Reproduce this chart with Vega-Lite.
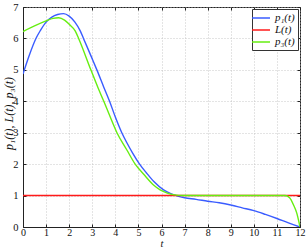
{
  "$schema": "https://vega.github.io/schema/vega-lite/v6.json",
  "width": 277,
  "height": 220,
  "autosize": {"type": "none"},
  "padding": {"left": 23, "top": 7, "right": 8, "bottom": 23},
  "background": "white",
  "config": {
    "view": {"stroke": "#222", "strokeWidth": 1},
    "font": "Liberation Serif",
    "axis": {
      "labelFont": "Liberation Serif",
      "labelFontSize": 10.5,
      "labelColor": "#111",
      "titleFont": "Liberation Serif",
      "titleFontStyle": "italic",
      "titleFontWeight": "normal",
      "titleFontSize": 12,
      "titleColor": "#111",
      "domainColor": "#222",
      "tickColor": "#222",
      "tickSize": -3,
      "gridColor": "#bbbbbb",
      "gridDash": [1, 2],
      "gridWidth": 0.8
    }
  },
  "data": {
    "values": [
      {"s": "p1", "t": 0, "v": 4.87},
      {"s": "p1", "t": 0.25, "v": 5.42},
      {"s": "p1", "t": 0.56, "v": 6.0},
      {"s": "p1", "t": 0.75, "v": 6.25},
      {"s": "p1", "t": 1.0, "v": 6.52},
      {"s": "p1", "t": 1.25, "v": 6.68},
      {"s": "p1", "t": 1.5, "v": 6.76},
      {"s": "p1", "t": 1.76, "v": 6.79},
      {"s": "p1", "t": 2.0, "v": 6.71},
      {"s": "p1", "t": 2.25, "v": 6.52},
      {"s": "p1", "t": 2.48, "v": 6.24},
      {"s": "p1", "t": 2.62, "v": 6.0},
      {"s": "p1", "t": 3.0, "v": 5.35},
      {"s": "p1", "t": 3.2, "v": 5.0},
      {"s": "p1", "t": 3.5, "v": 4.45},
      {"s": "p1", "t": 3.75, "v": 4.0},
      {"s": "p1", "t": 4.0, "v": 3.5},
      {"s": "p1", "t": 4.28, "v": 3.0},
      {"s": "p1", "t": 4.5, "v": 2.68},
      {"s": "p1", "t": 4.75, "v": 2.35},
      {"s": "p1", "t": 5.05, "v": 2.0},
      {"s": "p1", "t": 5.35, "v": 1.72},
      {"s": "p1", "t": 5.68, "v": 1.44},
      {"s": "p1", "t": 6.09, "v": 1.18},
      {"s": "p1", "t": 6.4, "v": 1.06},
      {"s": "p1", "t": 6.7, "v": 0.98},
      {"s": "p1", "t": 7.0, "v": 0.93},
      {"s": "p1", "t": 7.5, "v": 0.88},
      {"s": "p1", "t": 8.0, "v": 0.82},
      {"s": "p1", "t": 8.5, "v": 0.77},
      {"s": "p1", "t": 9.0, "v": 0.7},
      {"s": "p1", "t": 9.5, "v": 0.61},
      {"s": "p1", "t": 10.0, "v": 0.52},
      {"s": "p1", "t": 10.5, "v": 0.4},
      {"s": "p1", "t": 11.0, "v": 0.27},
      {"s": "p1", "t": 11.5, "v": 0.13},
      {"s": "p1", "t": 12.0, "v": 0.0},
      {"s": "L", "t": 0, "v": 1.0},
      {"s": "L", "t": 12, "v": 1.0},
      {"s": "p3", "t": 0, "v": 6.22},
      {"s": "p3", "t": 0.5, "v": 6.4},
      {"s": "p3", "t": 1.0, "v": 6.56},
      {"s": "p3", "t": 1.3, "v": 6.64},
      {"s": "p3", "t": 1.55, "v": 6.66},
      {"s": "p3", "t": 1.8, "v": 6.58},
      {"s": "p3", "t": 2.0, "v": 6.45},
      {"s": "p3", "t": 2.26, "v": 6.24},
      {"s": "p3", "t": 2.41, "v": 6.0},
      {"s": "p3", "t": 2.94, "v": 5.0},
      {"s": "p3", "t": 3.25, "v": 4.43},
      {"s": "p3", "t": 3.5, "v": 4.0},
      {"s": "p3", "t": 3.78, "v": 3.5},
      {"s": "p3", "t": 4.07, "v": 3.0},
      {"s": "p3", "t": 4.5, "v": 2.45},
      {"s": "p3", "t": 4.86, "v": 2.0},
      {"s": "p3", "t": 5.25, "v": 1.66},
      {"s": "p3", "t": 5.68, "v": 1.32},
      {"s": "p3", "t": 5.94, "v": 1.18},
      {"s": "p3", "t": 6.25, "v": 1.08},
      {"s": "p3", "t": 6.5, "v": 1.03},
      {"s": "p3", "t": 7.0, "v": 1.0},
      {"s": "p3", "t": 8.0, "v": 1.0},
      {"s": "p3", "t": 9.0, "v": 1.0},
      {"s": "p3", "t": 10.0, "v": 1.0},
      {"s": "p3", "t": 11.0, "v": 1.0},
      {"s": "p3", "t": 11.35, "v": 1.0},
      {"s": "p3", "t": 11.55, "v": 0.93},
      {"s": "p3", "t": 11.72, "v": 0.7},
      {"s": "p3", "t": 11.86, "v": 0.44},
      {"s": "p3", "t": 12.0, "v": 0.0}
    ]
  },
  "layer": [
    {
      "mark": {"type": "line", "strokeWidth": 1.4, "interpolate": "monotone", "clip": true},
      "encoding": {
        "x": {
          "field": "t", "type": "quantitative",
          "scale": {"domain": [0, 12], "nice": false, "zero": false},
          "axis": {"orient": "bottom", "values": [0,1,2,3,4,5,6,7,8,9,10,11,12], "title": "t", "labelPadding": 3, "labelFontSize": 10, "titleFontSize": 10.5, "titleY": 19.5, "titleBaseline": "alphabetic", "grid": true, "labelFlush": false}
        },
        "y": {
          "field": "v", "type": "quantitative",
          "scale": {"domain": [0, 7], "nice": false, "zero": false},
          "axis": {"orient": "left", "values": [0,1,2,3,4,5,6,7], "title": "p₁(t), L(t), p₃(t)", "labelPadding": 8, "titleX": -15, "titleY": 106, "titleAlign": "center", "titleBaseline": "middle", "titleAngle": -90, "grid": true, "labelFlush": false}
        },
        "color": {
          "field": "s", "type": "nominal",
          "scale": {"domain": ["p1", "L", "p3"], "range": ["#3a5cff", "#ff1a1a", "#66ee11"]},
          "legend": {
            "orient": "top-right",
            "offset": 2,
            "title": null,
            "labelExpr": "datum.value == 'p1' ? 'p₁(t)' : datum.value == 'p3' ? 'p₃(t)' : 'L(t)'",
            "labelFont": "Liberation Serif",
            "labelFontStyle": "italic",
            "labelFontSize": 11,
            "labelColor": "#111",
            "labelOffset": 8,
            "symbolType": "M-1.8,0H1.8",
            "symbolSize": 100,
            "symbolStrokeWidth": 1.5,
            "rowPadding": 1,
            "padding": 3,
            "fillColor": "white",
            "strokeColor": "#333",
            "cornerRadius": 0
          }
        }
      }
    },
    {
      "mark": {"type": "point", "opacity": 0},
      "encoding": {
        "x": {"field": "t", "type": "quantitative", "axis": {"orient": "top", "values": [0,1,2,3,4,5,6,7,8,9,10,11,12], "labels": false, "title": null, "grid": false, "domain": false}},
        "y": {"field": "v", "type": "quantitative", "axis": {"orient": "right", "values": [0,1,2,3,4,5,6,7], "labels": false, "title": null, "grid": false, "domain": false}}
      }
    }
  ],
  "resolve": {"axis": {"x": "independent", "y": "independent"}}
}
